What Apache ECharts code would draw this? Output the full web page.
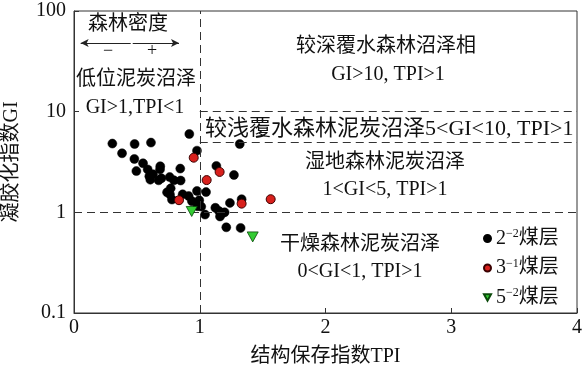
<!DOCTYPE html>
<html lang="zh">
<head>
    <meta charset="UTF-8">
    <title>GI-TPI</title>
    <script src="https://cdn.jsdelivr.net/npm/echarts@6/dist/echarts.min.js"></script>
    <style>
        html, body { margin: 0; padding: 0; background: #fff; }
    </style>
</head>
<body>
<div id="main" style="width: 584px; height: 375px;"></div>

<script type="text/javascript">

    // [TPI, GI]
    const seam22 = [
        [0.917, 6.0], [0.305, 4.82], [0.482, 4.77], [0.612, 4.93], [1.318, 4.77],
        [0.382, 3.86], [0.978, 4.1], [0.48, 3.39], [0.549, 3.07], [0.496, 2.57],
        [0.586, 2.67], [0.686, 2.87], [0.684, 2.67], [0.599, 2.28], [0.628, 2.39],
        [0.607, 2.11], [0.673, 2.08], [0.695, 2.18], [0.761, 2.24], [0.795, 2.08],
        [0.848, 2.07], [0.845, 2.72], [1.272, 2.35], [1.132, 2.89], [0.769, 1.73],
        [0.74, 1.58], [0.763, 1.51], [0.779, 1.34], [0.864, 1.51], [0.912, 1.45],
        [0.978, 1.63], [1.05, 1.59], [0.938, 1.29], [0.996, 1.32], [0.983, 1.15],
        [1.012, 1.14], [1.042, 0.95], [1.124, 1.11], [1.153, 1.03], [1.18, 0.98],
        [1.198, 1.0], [1.161, 0.91], [1.24, 1.24], [1.333, 1.35], [1.211, 0.71],
        [1.325, 0.70]
    ]
    const seam31 = [
        [0.952, 3.49], [1.158, 2.52], [1.055, 2.09], [0.835, 1.32], [1.333, 1.22], [1.564, 1.35]
    ]
    const seam52 = [
        [0.936, 1.02], [1.421, 0.57]
    ]
    const xTicks = [0, 1, 2, 3, 4]
    const yTicks = [0.1, 1, 10, 100]

    const font = '"Liberation Serif", "Noto Sans CJK SC"'
    const dash = { color: '#333', type: [8, 5], width: 1 }

    function label(text, x, y, align, size) {
        return {
            type: 'text', x: x, y: y, silent: true,
            style: {
                text: text, fill: '#111', align: align || 'center', verticalAlign: 'middle',
                font: (size || 20) + 'px ' + font
            }
        }
    }

    let chart = echarts.init(document.getElementById('main'))

    chart.setOption({
        animation: false,
        grid: {
            left: 74, right: 7, top: 11, bottom: 62,
            containLabel: false, outerBoundsMode: 'none',
            show: true, borderColor: '#333', borderWidth: 1
        },
        xAxis: {
            type: 'value', min: xTicks[0], max: xTicks[xTicks.length - 1], interval: 1,
            name: '结构保存指数TPI', nameLocation: 'middle', nameGap: 34,
            nameTextStyle: { fontFamily: font, fontSize: 20, color: '#111' },
            axisLine: { lineStyle: { color: '#333' } },
            axisTick: { inside: true, length: 5, lineStyle: { color: '#333' } },
            axisLabel: { fontFamily: font, fontSize: 20, color: '#111', margin: 5 },
            splitLine: { show: false }
        },
        yAxis: {
            type: 'log', logBase: 10, min: yTicks[0], max: yTicks[yTicks.length - 1],
            name: '凝胶化指数GI', nameLocation: 'middle', nameGap: 52, nameRotate: 90,
            nameTextStyle: { fontFamily: font, fontSize: 20, color: '#111' },
            axisLine: { show: true, lineStyle: { color: '#333' } },
            axisTick: { show: true, inside: true, length: 5, lineStyle: { color: '#333' } },
            axisLabel: {
                fontFamily: font, fontSize: 20, color: '#111', margin: 8,
                formatter: v => String(+v.toPrecision(3))
            },
            splitLine: { show: false }
        },
        legend: {
            orient: 'vertical', left: 478, top: 223, itemGap: 9,
            itemWidth: 7, itemHeight: 7,
            textStyle: {
                fontFamily: font, fontSize: 20, color: '#111',
                rich: {
                    n: { fontFamily: font, fontSize: 20, color: '#111' },
                    s: { fontFamily: font, fontSize: 12, color: '#111', padding: [0, 0, 9, 0] }
                }
            },
            formatter: name => {
                const p = name.split('-')
                return '{n|' + p[0] + '}{s|\u2212' + p[1] + '}{n|煤层}'
            },
            data: [
                { name: '2-2', icon: 'circle' },
                { name: '3-1', icon: 'circle' },
                { name: '5-2', icon: 'path://M0,0L10,0L5,9Z' }
            ]
        },
        series: [
            {
                name: '2-2', type: 'scatter', data: seam22, symbolSize: 9,
                itemStyle: { color: '#000', borderColor: '#000', borderWidth: 0.5, opacity: 1 },
                z: 3,
                markLine: {
                    silent: true, symbol: 'none', label: { show: false }, lineStyle: dash,
                    data: [
                        [{ coord: [1, 0.1] }, { coord: [1, 100] }],
                        [{ coord: [0, 1] }, { coord: [4, 1] }],
                        [{ coord: [1, 10] }, { coord: [4, 10] }],
                        [{ coord: [1, 5] }, { coord: [4, 5] }]
                    ]
                }
            },
            {
                name: '3-1', type: 'scatter', data: seam31, symbolSize: 9,
                itemStyle: { color: '#d8201c', borderColor: '#3a0000', borderWidth: 1, opacity: 1 },
                z: 4,
                markLine: {
                    silent: true, symbol: ['none', 'arrow'], symbolSize: [6, 8],
                    label: { show: false },
                    lineStyle: { color: '#222', type: 'solid', width: 1 },
                    data: [
                        [{ coord: [0.451, 48.2] }, { coord: [0.053, 48.2] }],
                        [{ coord: [0.467, 48.2] }, { coord: [0.835, 48.2] }]
                    ]
                }
            },
            {
                name: '5-2', type: 'scatter', data: seam52, symbol: 'triangle', symbolRotate: 180,
                symbolSize: [11, 10],
                itemStyle: { color: '#33cc33', borderColor: '#0a4a0a', borderWidth: 0.8, opacity: 1 },
                z: 5
            }
        ],
        graphic: [
            label('森林密度', 128, 25),
            label('\u2212', 108, 51, 'center', 18),
            label('+', 152, 51, 'center', 18),
            label('低位泥炭沼泽', 136, 80),
            label('GI>1,TPI<1', 135, 108),
            label('较深覆水森林沼泽相', 386, 47),
            label('GI>10, TPI>1', 388, 75),
            label('较浅覆水森林泥炭沼泽5<GI<10, TPI>1', 205, 129, 'left', 22),
            label('湿地森林泥炭沼泽', 385, 163),
            label('1<GI<5, TPI>1', 385, 190),
            label('干燥森林泥炭沼泽', 360, 245),
            label('0<GI<1, TPI>1', 360, 272)
        ]
    })

</script>
</body>
</html>
